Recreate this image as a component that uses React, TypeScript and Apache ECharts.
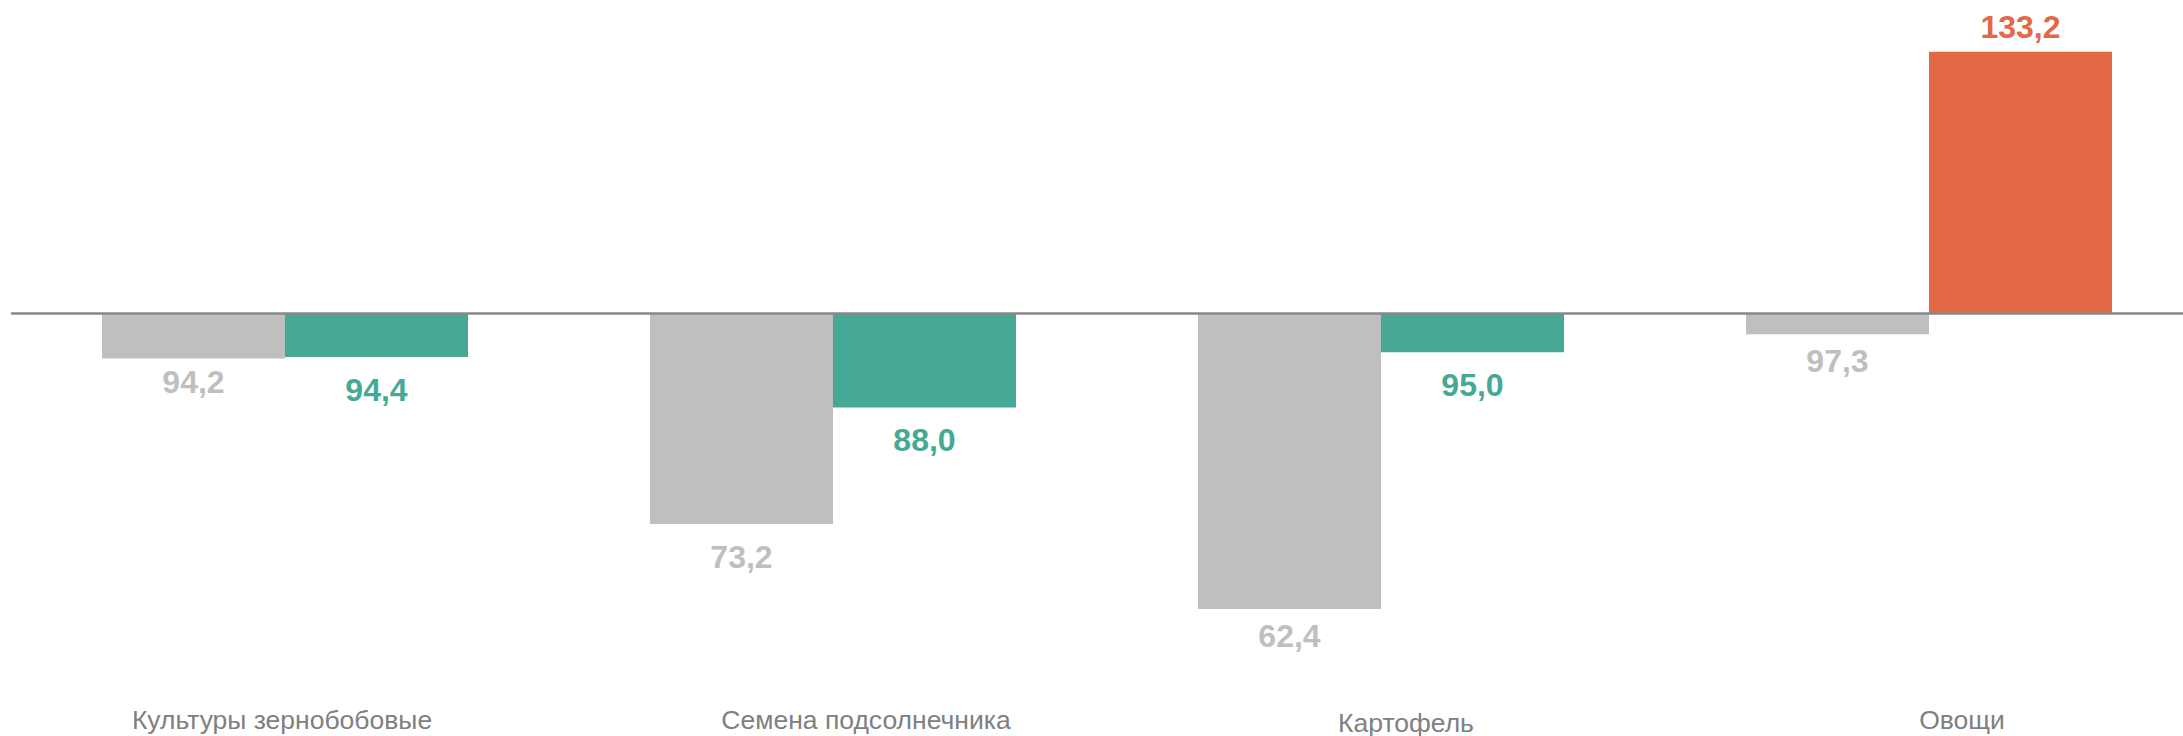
import React, { useEffect, useRef } from "react";
import * as echarts from "echarts";

const categories = ["Культуры зернобобовые", "Семена подсолнечника", "Картофель", "Овощи"];
const baseLevel = 100;
const prevValues = [94.2, 73.2, 62.4, 97.3];
const currValues = [94.4, 88.0, 95.0, 133.2];

// label placement tweaks (layout only)
const categoryLabelPadding = [
  [0, 6, 0, 0],
  [0, 0, 0, 66],
  [3, 0, 0, 50],
  [0, 0, 0, 66],
];
const prevLabelShift = [-4, 6, 0, 0];

const GREY = "#BFBFBF";
const TEAL = "#46A996";
const ORANGE = "#E26846";

const fmt = (v: number) => v.toFixed(1).replace(".", ",");

export default function App() {
  const ref = useRef<HTMLDivElement>(null);
  useEffect(() => {
    if (!ref.current) return;
    const chart = echarts.init(ref.current, undefined, { renderer: "svg" });
    const labelBase = {
      show: true,
      fontFamily: "Liberation Sans, Arial, sans-serif",
      fontWeight: "bold" as const,
      fontSize: 32,
    };
    chart.setOption({
      animation: false,
      backgroundColor: "#ffffff",
      grid: {
        left: 11,
        width: 2192,
        top: 37.5,
        height: 590.3,
        containLabel: false,
        outerBoundsMode: "none",
      },
      xAxis: {
        type: "category",
        data: categories.map((c, i) => ({
          value: c,
          textStyle: { padding: categoryLabelPadding[i] },
        })),
        axisLine: { show: false },
        axisTick: { show: false },
        splitLine: { show: false },
        axisLabel: {
          margin: 79,
          color: "#808080",
          fontSize: 26.5,
          fontFamily: "Liberation Sans, Arial, sans-serif",
        },
      },
      yAxis: {
        type: "value",
        min: -40,
        max: 35,
        show: false,
        splitLine: { show: false },
      },
      series: [
        {
          type: "bar",
          name: "prev",
          barWidth: 183,
          barGap: "0%",
          data: prevValues.map((v, i) => {
            const d = +(v - baseLevel).toFixed(1);
            return {
              value: d,
              itemStyle: { color: GREY },
              label: {
                ...labelBase,
                color: GREY,
                position: d < 0 ? "bottom" : "top",
                distance: 11 + prevLabelShift[i],
                formatter: () => fmt(v),
              },
            };
          }),
          markLine: {
            silent: true,
            symbol: "none",
            label: { show: false },
            lineStyle: { color: "#888888", width: 2.5, type: "solid" },
            data: [{ yAxis: 0 }],
            z: 10,
          },
        },
        {
          type: "bar",
          name: "curr",
          barWidth: 183,
          barGap: "0%",
          data: currValues.map((v) => {
            const d = +(v - baseLevel).toFixed(1);
            const c = v >= baseLevel ? ORANGE : TEAL;
            return {
              value: d,
              itemStyle: { color: c },
              label: {
                ...labelBase,
                color: c,
                position: d < 0 ? "bottom" : "top",
                distance: d < 0 ? 17 : 9,
                formatter: () => fmt(v),
              },
            };
          }),
        },
      ],
    });
    return () => chart.dispose();
  }, []);
  return (
    <div
      style={{
        position: "absolute",
        left: 0,
        top: 0,
        width: 2183,
        height: 736,
        overflow: "hidden",
        background: "#fff",
      }}
    >
      <div ref={ref} style={{ position: "absolute", left: 0, top: 0, width: 2220, height: 736 }} />
    </div>
  );
}
